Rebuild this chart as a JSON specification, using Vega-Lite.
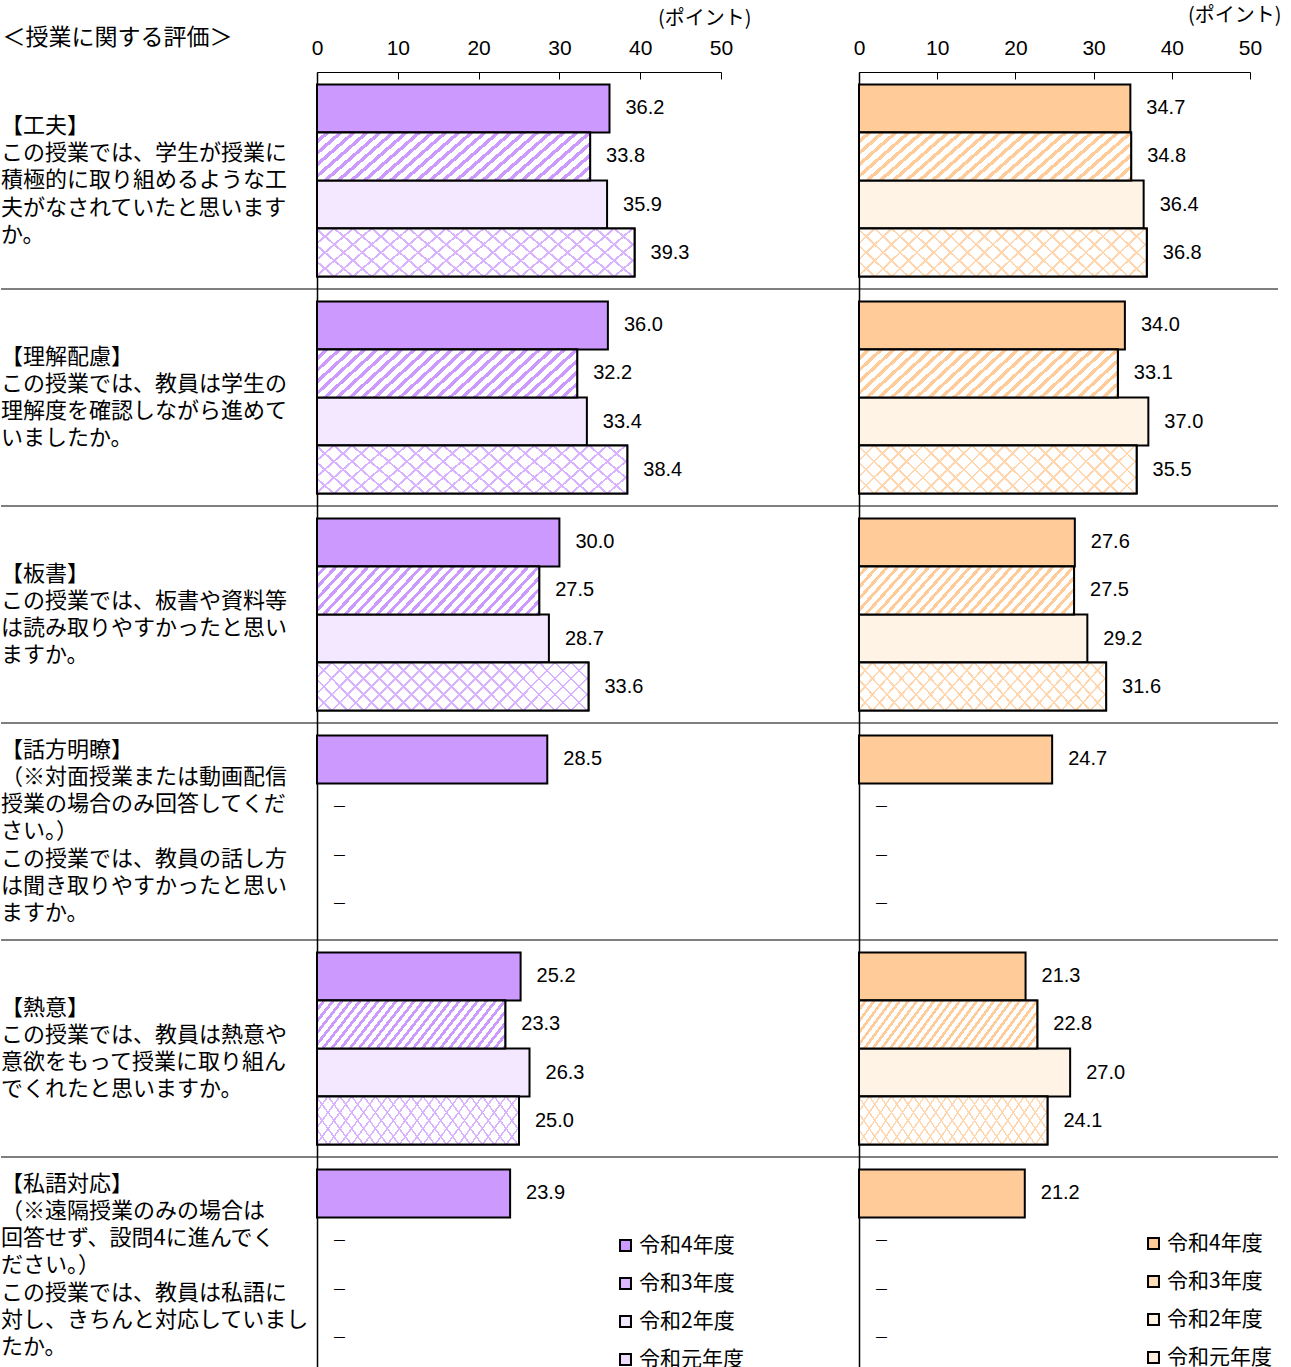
{
  "$schema": "https://vega.github.io/schema/vega-lite/v6.json",
  "padding": {"left": 0, "top": 5, "right": 0, "bottom": 0},
  "bounds": "flush",
  "spacing": 0,
  "config": {
    "view": {"stroke": null},
    "font": "Noto Sans CJK JP",
    "axisX": {"grid": false, "domainColor": "black", "domainWidth": 1.2, "tickColor": "black", "tickSize": -7, "tickWidth": 1, "labelPadding": 21, "labelFontSize": 21, "labelFont": "Liberation Sans", "labelColor": "black", "labelFlush": false, "titleFont": "Noto Sans CJK JP", "titleFontSize": 20, "titleFontWeight": "normal", "titleColor": "black", "titleAlign": "right", "titleBaseline": "middle"}
  },
  "resolve": {"scale": {"color": "independent", "x": "independent"}, "legend": {"color": "independent"}},
  "datasets": {
    "labels": [
      {"group": "工夫", "lines": 5, "text": "【工夫】\nこの授業では、学生が授業に\n積極的に取り組めるような工\n夫がなされていたと思います\nか。"},
      {"group": "理解配慮", "lines": 4, "text": "【理解配慮】\nこの授業では、教員は学生の\n理解度を確認しながら進めて\nいましたか。"},
      {"group": "板書", "lines": 4, "text": "【板書】\nこの授業では、板書や資料等\nは読み取りやすかったと思い\nますか。"},
      {"group": "話方明瞭", "lines": 7, "text": "【話方明瞭】\n（※対面授業または動画配信\n授業の場合のみ回答してくだ\nさい。）\nこの授業では、教員の話し方\nは聞き取りやすかったと思い\nますか。"},
      {"group": "熱意", "lines": 4, "text": "【熱意】\nこの授業では、教員は熱意や\n意欲をもって授業に取り組ん\nでくれたと思いますか。"},
      {"group": "私語対応", "lines": 7, "text": "【私語対応】\n（※遠隔授業のみの場合は\n回答せず、設問4に進んでく\nださい。）\nこの授業では、教員は私語に\n対し、きちんと対応していまし\nたか。"}
    ],
    "left": [
      {"group": "工夫", "year": "令和4年度", "value": 36.2},
      {"group": "工夫", "year": "令和3年度", "value": 33.8},
      {"group": "工夫", "year": "令和2年度", "value": 35.9},
      {"group": "工夫", "year": "令和元年度", "value": 39.3},
      {"group": "理解配慮", "year": "令和4年度", "value": 36.0},
      {"group": "理解配慮", "year": "令和3年度", "value": 32.2},
      {"group": "理解配慮", "year": "令和2年度", "value": 33.4},
      {"group": "理解配慮", "year": "令和元年度", "value": 38.4},
      {"group": "板書", "year": "令和4年度", "value": 30.0},
      {"group": "板書", "year": "令和3年度", "value": 27.5},
      {"group": "板書", "year": "令和2年度", "value": 28.7},
      {"group": "板書", "year": "令和元年度", "value": 33.6},
      {"group": "話方明瞭", "year": "令和4年度", "value": 28.5},
      {"group": "話方明瞭", "year": "令和3年度", "value": null},
      {"group": "話方明瞭", "year": "令和2年度", "value": null},
      {"group": "話方明瞭", "year": "令和元年度", "value": null},
      {"group": "熱意", "year": "令和4年度", "value": 25.2},
      {"group": "熱意", "year": "令和3年度", "value": 23.3},
      {"group": "熱意", "year": "令和2年度", "value": 26.3},
      {"group": "熱意", "year": "令和元年度", "value": 25.0},
      {"group": "私語対応", "year": "令和4年度", "value": 23.9},
      {"group": "私語対応", "year": "令和3年度", "value": null},
      {"group": "私語対応", "year": "令和2年度", "value": null},
      {"group": "私語対応", "year": "令和元年度", "value": null}
    ],
    "right": [
      {"group": "工夫", "year": "令和4年度", "value": 34.7},
      {"group": "工夫", "year": "令和3年度", "value": 34.8},
      {"group": "工夫", "year": "令和2年度", "value": 36.4},
      {"group": "工夫", "year": "令和元年度", "value": 36.8},
      {"group": "理解配慮", "year": "令和4年度", "value": 34.0},
      {"group": "理解配慮", "year": "令和3年度", "value": 33.1},
      {"group": "理解配慮", "year": "令和2年度", "value": 37.0},
      {"group": "理解配慮", "year": "令和元年度", "value": 35.5},
      {"group": "板書", "year": "令和4年度", "value": 27.6},
      {"group": "板書", "year": "令和3年度", "value": 27.5},
      {"group": "板書", "year": "令和2年度", "value": 29.2},
      {"group": "板書", "year": "令和元年度", "value": 31.6},
      {"group": "話方明瞭", "year": "令和4年度", "value": 24.7},
      {"group": "話方明瞭", "year": "令和3年度", "value": null},
      {"group": "話方明瞭", "year": "令和2年度", "value": null},
      {"group": "話方明瞭", "year": "令和元年度", "value": null},
      {"group": "熱意", "year": "令和4年度", "value": 21.3},
      {"group": "熱意", "year": "令和3年度", "value": 22.8},
      {"group": "熱意", "year": "令和2年度", "value": 27.0},
      {"group": "熱意", "year": "令和元年度", "value": 24.1},
      {"group": "私語対応", "year": "令和4年度", "value": 21.2},
      {"group": "私語対応", "year": "令和3年度", "value": null},
      {"group": "私語対応", "year": "令和2年度", "value": null},
      {"group": "私語対応", "year": "令和元年度", "value": null}
    ]
  },
  "hconcat": [
    {
      "width": 316,
      "height": 1302,
      "data": {"name": "labels"},
      "title": {"text": "＜授業に関する評価＞", "anchor": "start", "fontSize": 23, "fontWeight": "normal", "font": "Noto Sans CJK JP", "color": "black", "offset": 22, "dx": 2},
      "encoding": {
        "y": {"field": "group", "type": "nominal", "sort": ["工夫", "理解配慮", "板書", "話方明瞭", "熱意", "私語対応"], "scale": {"domain": ["工夫", "理解配慮", "板書", "話方明瞭", "熱意", "私語対応"], "paddingInner": 0, "paddingOuter": 0}, "axis": null}
      },
      "layer": [
        {
          "transform": [{"filter": "datum.group !== '工夫'"}],
          "mark": {"type": "rule", "color": "black", "strokeWidth": 1.2},
          "encoding": {"y": {"field": "group", "type": "nominal", "sort": ["工夫", "理解配慮", "板書", "話方明瞭", "熱意", "私語対応"], "bandPosition": 0, "axis": null}}
        },
        {
          "transform": [{"filter": "datum.lines === 5"}],
          "mark": {"type": "text", "align": "left", "baseline": "middle", "lineBreak": "\n", "fontSize": 22, "lineHeight": 27.2, "font": "Noto Sans CJK JP", "color": "black", "dx": 0, "dy": -54.4},
          "encoding": {"x": {"value": 0}, "text": {"field": "text", "type": "nominal"}}
        },
        {
          "transform": [{"filter": "datum.lines === 4"}],
          "mark": {"type": "text", "align": "left", "baseline": "middle", "lineBreak": "\n", "fontSize": 22, "lineHeight": 27.2, "font": "Noto Sans CJK JP", "color": "black", "dx": 0, "dy": -40.8},
          "encoding": {"x": {"value": 0}, "text": {"field": "text", "type": "nominal"}}
        },
        {
          "transform": [{"filter": "datum.lines === 7"}],
          "mark": {"type": "text", "align": "left", "baseline": "middle", "lineBreak": "\n", "fontSize": 22, "lineHeight": 27.2, "font": "Noto Sans CJK JP", "color": "black", "dx": 0, "dy": -81.6},
          "encoding": {"x": {"value": 0}, "text": {"field": "text", "type": "nominal"}}
        }
      ]
    },
    {
      "width": 542,
      "height": 1302,
      "data": {"name": "left"},
      "encoding": {
        "y": {"field": "group", "type": "nominal", "sort": ["工夫", "理解配慮", "板書", "話方明瞭", "熱意", "私語対応"], "scale": {"domain": ["工夫", "理解配慮", "板書", "話方明瞭", "熱意", "私語対応"], "paddingInner": 0, "paddingOuter": 0}, "axis": {"title": null, "labels": false, "ticks": false, "domain": true, "domainColor": "black", "domainWidth": 1.5, "grid": false}}
      },
      "layer": [
        {
          "transform": [{"filter": "datum.group !== '工夫' && datum.year === '令和4年度'"}],
          "mark": {"type": "rule", "color": "black", "strokeWidth": 1.2},
          "encoding": {"y": {"field": "group", "type": "nominal", "sort": ["工夫", "理解配慮", "板書", "話方明瞭", "熱意", "私語対応"], "bandPosition": 0}}
        },
        {
          "transform": [{"filter": "datum.value !== null"}],
          "mark": {"type": "bar", "stroke": "black", "strokeWidth": 2},
          "encoding": {
            "x": {"field": "value", "type": "quantitative", "title": "(ポイント)", "scale": {"domain": [0, 50], "range": [0, 404], "nice": false}, "axis": {"orient": "top", "values": [0, 10, 20, 30, 40, 50], "labelFlush": false, "titleX": 434, "titleY": -54}},
            "yOffset": {"field": "year", "type": "nominal", "sort": ["令和4年度", "令和3年度", "令和2年度", "令和元年度"], "scale": {"domain": ["令和4年度", "令和3年度", "令和2年度", "令和元年度"], "paddingOuter": 0.26, "paddingInner": 0}},
            "color": {"field": "year", "type": "nominal", "scale": {"domain": ["令和4年度", "令和3年度", "令和2年度", "令和元年度"], "range": ["#cc99ff", "#ddb8ff", "#f3e8ff", "#eeddff"]}, "legend": {"orient": "none", "legendX": 298, "legendY": 1163, "title": null, "symbolType": "square", "symbolSize": 120, "symbolStrokeColor": "black", "symbolStrokeWidth": 2, "labelFont": "Noto Sans CJK JP", "labelFontSize": 21, "labelColor": "black", "rowPadding": 16, "labelOffset": 3, "padding": 0}}
          }
        },
        {
          "transform": [{"filter": "datum.value !== null && datum.year === '令和3年度'"}],
          "mark": {"type": "bar", "stroke": "black", "strokeWidth": 2, "fill": {"gradient": "linear", "x1": 0, "y1": 0, "x2": 1.154, "y2": 0.231, "stops": [
            {"offset": 0.024, "color": "#fff"}, {"offset": 0.024, "color": "#c9f"}, {"offset": 0.04, "color": "#c9f"}, {"offset": 0.04, "color": "#fff"},
            {"offset": 0.064, "color": "#fff"}, {"offset": 0.064, "color": "#c9f"}, {"offset": 0.08, "color": "#c9f"}, {"offset": 0.08, "color": "#fff"},
            {"offset": 0.104, "color": "#fff"}, {"offset": 0.104, "color": "#c9f"}, {"offset": 0.12, "color": "#c9f"}, {"offset": 0.12, "color": "#fff"},
            {"offset": 0.144, "color": "#fff"}, {"offset": 0.144, "color": "#c9f"}, {"offset": 0.16, "color": "#c9f"}, {"offset": 0.16, "color": "#fff"},
            {"offset": 0.184, "color": "#fff"}, {"offset": 0.184, "color": "#c9f"}, {"offset": 0.2, "color": "#c9f"}, {"offset": 0.2, "color": "#fff"},
            {"offset": 0.224, "color": "#fff"}, {"offset": 0.224, "color": "#c9f"}, {"offset": 0.24, "color": "#c9f"}, {"offset": 0.24, "color": "#fff"},
            {"offset": 0.264, "color": "#fff"}, {"offset": 0.264, "color": "#c9f"}, {"offset": 0.28, "color": "#c9f"}, {"offset": 0.28, "color": "#fff"},
            {"offset": 0.304, "color": "#fff"}, {"offset": 0.304, "color": "#c9f"}, {"offset": 0.32, "color": "#c9f"}, {"offset": 0.32, "color": "#fff"},
            {"offset": 0.344, "color": "#fff"}, {"offset": 0.344, "color": "#c9f"}, {"offset": 0.36, "color": "#c9f"}, {"offset": 0.36, "color": "#fff"},
            {"offset": 0.384, "color": "#fff"}, {"offset": 0.384, "color": "#c9f"}, {"offset": 0.4, "color": "#c9f"}, {"offset": 0.4, "color": "#fff"},
            {"offset": 0.424, "color": "#fff"}, {"offset": 0.424, "color": "#c9f"}, {"offset": 0.44, "color": "#c9f"}, {"offset": 0.44, "color": "#fff"},
            {"offset": 0.464, "color": "#fff"}, {"offset": 0.464, "color": "#c9f"}, {"offset": 0.48, "color": "#c9f"}, {"offset": 0.48, "color": "#fff"},
            {"offset": 0.504, "color": "#fff"}, {"offset": 0.504, "color": "#c9f"}, {"offset": 0.52, "color": "#c9f"}, {"offset": 0.52, "color": "#fff"},
            {"offset": 0.544, "color": "#fff"}, {"offset": 0.544, "color": "#c9f"}, {"offset": 0.56, "color": "#c9f"}, {"offset": 0.56, "color": "#fff"},
            {"offset": 0.584, "color": "#fff"}, {"offset": 0.584, "color": "#c9f"}, {"offset": 0.6, "color": "#c9f"}, {"offset": 0.6, "color": "#fff"},
            {"offset": 0.624, "color": "#fff"}, {"offset": 0.624, "color": "#c9f"}, {"offset": 0.64, "color": "#c9f"}, {"offset": 0.64, "color": "#fff"},
            {"offset": 0.664, "color": "#fff"}, {"offset": 0.664, "color": "#c9f"}, {"offset": 0.68, "color": "#c9f"}, {"offset": 0.68, "color": "#fff"},
            {"offset": 0.704, "color": "#fff"}, {"offset": 0.704, "color": "#c9f"}, {"offset": 0.72, "color": "#c9f"}, {"offset": 0.72, "color": "#fff"},
            {"offset": 0.744, "color": "#fff"}, {"offset": 0.744, "color": "#c9f"}, {"offset": 0.76, "color": "#c9f"}, {"offset": 0.76, "color": "#fff"},
            {"offset": 0.784, "color": "#fff"}, {"offset": 0.784, "color": "#c9f"}, {"offset": 0.8, "color": "#c9f"}, {"offset": 0.8, "color": "#fff"},
            {"offset": 0.824, "color": "#fff"}, {"offset": 0.824, "color": "#c9f"}, {"offset": 0.84, "color": "#c9f"}, {"offset": 0.84, "color": "#fff"},
            {"offset": 0.864, "color": "#fff"}, {"offset": 0.864, "color": "#c9f"}, {"offset": 0.88, "color": "#c9f"}, {"offset": 0.88, "color": "#fff"},
            {"offset": 0.904, "color": "#fff"}, {"offset": 0.904, "color": "#c9f"}, {"offset": 0.92, "color": "#c9f"}, {"offset": 0.92, "color": "#fff"},
            {"offset": 0.944, "color": "#fff"}, {"offset": 0.944, "color": "#c9f"}, {"offset": 0.96, "color": "#c9f"}, {"offset": 0.96, "color": "#fff"},
            {"offset": 0.984, "color": "#fff"}, {"offset": 0.984, "color": "#c9f"}, {"offset": 1, "color": "#c9f"}
          ]}},
          "encoding": {
            "x": {"field": "value", "type": "quantitative", "title": "(ポイント)", "scale": {"domain": [0, 50], "range": [0, 404], "nice": false}, "axis": {"orient": "top", "values": [0, 10, 20, 30, 40, 50], "labelFlush": false, "titleX": 434, "titleY": -54}},
            "yOffset": {"field": "year", "type": "nominal", "sort": ["令和4年度", "令和3年度", "令和2年度", "令和元年度"], "scale": {"domain": ["令和4年度", "令和3年度", "令和2年度", "令和元年度"], "paddingOuter": 0.26, "paddingInner": 0}}
          }
        },
        {
          "transform": [{"filter": "datum.value !== null && datum.year === '令和元年度'"}],
          "mark": {"type": "bar", "strokeWidth": 0, "fill": {"gradient": "linear", "x1": 0, "y1": 0, "x2": 1.14, "y2": 0.2, "stops": [
            {"offset": 0.042, "color": "#fff"}, {"offset": 0.042, "color": "#d9b3ff"}, {"offset": 0.05, "color": "#d9b3ff"}, {"offset": 0.05, "color": "#fff"},
            {"offset": 0.092, "color": "#fff"}, {"offset": 0.092, "color": "#d9b3ff"}, {"offset": 0.1, "color": "#d9b3ff"}, {"offset": 0.1, "color": "#fff"},
            {"offset": 0.142, "color": "#fff"}, {"offset": 0.142, "color": "#d9b3ff"}, {"offset": 0.15, "color": "#d9b3ff"}, {"offset": 0.15, "color": "#fff"},
            {"offset": 0.192, "color": "#fff"}, {"offset": 0.192, "color": "#d9b3ff"}, {"offset": 0.2, "color": "#d9b3ff"}, {"offset": 0.2, "color": "#fff"},
            {"offset": 0.242, "color": "#fff"}, {"offset": 0.242, "color": "#d9b3ff"}, {"offset": 0.25, "color": "#d9b3ff"}, {"offset": 0.25, "color": "#fff"},
            {"offset": 0.292, "color": "#fff"}, {"offset": 0.292, "color": "#d9b3ff"}, {"offset": 0.3, "color": "#d9b3ff"}, {"offset": 0.3, "color": "#fff"},
            {"offset": 0.342, "color": "#fff"}, {"offset": 0.342, "color": "#d9b3ff"}, {"offset": 0.35, "color": "#d9b3ff"}, {"offset": 0.35, "color": "#fff"},
            {"offset": 0.392, "color": "#fff"}, {"offset": 0.392, "color": "#d9b3ff"}, {"offset": 0.4, "color": "#d9b3ff"}, {"offset": 0.4, "color": "#fff"},
            {"offset": 0.442, "color": "#fff"}, {"offset": 0.442, "color": "#d9b3ff"}, {"offset": 0.45, "color": "#d9b3ff"}, {"offset": 0.45, "color": "#fff"},
            {"offset": 0.492, "color": "#fff"}, {"offset": 0.492, "color": "#d9b3ff"}, {"offset": 0.5, "color": "#d9b3ff"}, {"offset": 0.5, "color": "#fff"},
            {"offset": 0.542, "color": "#fff"}, {"offset": 0.542, "color": "#d9b3ff"}, {"offset": 0.55, "color": "#d9b3ff"}, {"offset": 0.55, "color": "#fff"},
            {"offset": 0.592, "color": "#fff"}, {"offset": 0.592, "color": "#d9b3ff"}, {"offset": 0.6, "color": "#d9b3ff"}, {"offset": 0.6, "color": "#fff"},
            {"offset": 0.642, "color": "#fff"}, {"offset": 0.642, "color": "#d9b3ff"}, {"offset": 0.65, "color": "#d9b3ff"}, {"offset": 0.65, "color": "#fff"},
            {"offset": 0.692, "color": "#fff"}, {"offset": 0.692, "color": "#d9b3ff"}, {"offset": 0.7, "color": "#d9b3ff"}, {"offset": 0.7, "color": "#fff"},
            {"offset": 0.742, "color": "#fff"}, {"offset": 0.742, "color": "#d9b3ff"}, {"offset": 0.75, "color": "#d9b3ff"}, {"offset": 0.75, "color": "#fff"},
            {"offset": 0.792, "color": "#fff"}, {"offset": 0.792, "color": "#d9b3ff"}, {"offset": 0.8, "color": "#d9b3ff"}, {"offset": 0.8, "color": "#fff"},
            {"offset": 0.842, "color": "#fff"}, {"offset": 0.842, "color": "#d9b3ff"}, {"offset": 0.85, "color": "#d9b3ff"}, {"offset": 0.85, "color": "#fff"},
            {"offset": 0.892, "color": "#fff"}, {"offset": 0.892, "color": "#d9b3ff"}, {"offset": 0.9, "color": "#d9b3ff"}, {"offset": 0.9, "color": "#fff"},
            {"offset": 0.942, "color": "#fff"}, {"offset": 0.942, "color": "#d9b3ff"}, {"offset": 0.95, "color": "#d9b3ff"}, {"offset": 0.95, "color": "#fff"},
            {"offset": 0.992, "color": "#fff"}, {"offset": 0.992, "color": "#d9b3ff"}, {"offset": 1, "color": "#d9b3ff"}
          ]}},
          "encoding": {
            "x": {"field": "value", "type": "quantitative", "title": "(ポイント)", "scale": {"domain": [0, 50], "range": [0, 404], "nice": false}, "axis": {"orient": "top", "values": [0, 10, 20, 30, 40, 50], "labelFlush": false, "titleX": 434, "titleY": -54}},
            "yOffset": {"field": "year", "type": "nominal", "sort": ["令和4年度", "令和3年度", "令和2年度", "令和元年度"], "scale": {"domain": ["令和4年度", "令和3年度", "令和2年度", "令和元年度"], "paddingOuter": 0.26, "paddingInner": 0}}
          }
        },
        {
          "transform": [{"filter": "datum.value !== null && datum.year === '令和元年度'"}],
          "mark": {"type": "bar", "stroke": "black", "strokeWidth": 2, "fill": {"gradient": "linear", "x1": 0, "y1": 1, "x2": 1.14, "y2": 0.8, "stops": [
            {"offset": 0.042, "color": "rgba(0,0,0,0)"}, {"offset": 0.042, "color": "#d9b3ff"}, {"offset": 0.05, "color": "#d9b3ff"}, {"offset": 0.05, "color": "rgba(0,0,0,0)"},
            {"offset": 0.092, "color": "rgba(0,0,0,0)"}, {"offset": 0.092, "color": "#d9b3ff"}, {"offset": 0.1, "color": "#d9b3ff"}, {"offset": 0.1, "color": "rgba(0,0,0,0)"},
            {"offset": 0.142, "color": "rgba(0,0,0,0)"}, {"offset": 0.142, "color": "#d9b3ff"}, {"offset": 0.15, "color": "#d9b3ff"}, {"offset": 0.15, "color": "rgba(0,0,0,0)"},
            {"offset": 0.192, "color": "rgba(0,0,0,0)"}, {"offset": 0.192, "color": "#d9b3ff"}, {"offset": 0.2, "color": "#d9b3ff"}, {"offset": 0.2, "color": "rgba(0,0,0,0)"},
            {"offset": 0.242, "color": "rgba(0,0,0,0)"}, {"offset": 0.242, "color": "#d9b3ff"}, {"offset": 0.25, "color": "#d9b3ff"}, {"offset": 0.25, "color": "rgba(0,0,0,0)"},
            {"offset": 0.292, "color": "rgba(0,0,0,0)"}, {"offset": 0.292, "color": "#d9b3ff"}, {"offset": 0.3, "color": "#d9b3ff"}, {"offset": 0.3, "color": "rgba(0,0,0,0)"},
            {"offset": 0.342, "color": "rgba(0,0,0,0)"}, {"offset": 0.342, "color": "#d9b3ff"}, {"offset": 0.35, "color": "#d9b3ff"}, {"offset": 0.35, "color": "rgba(0,0,0,0)"},
            {"offset": 0.392, "color": "rgba(0,0,0,0)"}, {"offset": 0.392, "color": "#d9b3ff"}, {"offset": 0.4, "color": "#d9b3ff"}, {"offset": 0.4, "color": "rgba(0,0,0,0)"},
            {"offset": 0.442, "color": "rgba(0,0,0,0)"}, {"offset": 0.442, "color": "#d9b3ff"}, {"offset": 0.45, "color": "#d9b3ff"}, {"offset": 0.45, "color": "rgba(0,0,0,0)"},
            {"offset": 0.492, "color": "rgba(0,0,0,0)"}, {"offset": 0.492, "color": "#d9b3ff"}, {"offset": 0.5, "color": "#d9b3ff"}, {"offset": 0.5, "color": "rgba(0,0,0,0)"},
            {"offset": 0.542, "color": "rgba(0,0,0,0)"}, {"offset": 0.542, "color": "#d9b3ff"}, {"offset": 0.55, "color": "#d9b3ff"}, {"offset": 0.55, "color": "rgba(0,0,0,0)"},
            {"offset": 0.592, "color": "rgba(0,0,0,0)"}, {"offset": 0.592, "color": "#d9b3ff"}, {"offset": 0.6, "color": "#d9b3ff"}, {"offset": 0.6, "color": "rgba(0,0,0,0)"},
            {"offset": 0.642, "color": "rgba(0,0,0,0)"}, {"offset": 0.642, "color": "#d9b3ff"}, {"offset": 0.65, "color": "#d9b3ff"}, {"offset": 0.65, "color": "rgba(0,0,0,0)"},
            {"offset": 0.692, "color": "rgba(0,0,0,0)"}, {"offset": 0.692, "color": "#d9b3ff"}, {"offset": 0.7, "color": "#d9b3ff"}, {"offset": 0.7, "color": "rgba(0,0,0,0)"},
            {"offset": 0.742, "color": "rgba(0,0,0,0)"}, {"offset": 0.742, "color": "#d9b3ff"}, {"offset": 0.75, "color": "#d9b3ff"}, {"offset": 0.75, "color": "rgba(0,0,0,0)"},
            {"offset": 0.792, "color": "rgba(0,0,0,0)"}, {"offset": 0.792, "color": "#d9b3ff"}, {"offset": 0.8, "color": "#d9b3ff"}, {"offset": 0.8, "color": "rgba(0,0,0,0)"},
            {"offset": 0.842, "color": "rgba(0,0,0,0)"}, {"offset": 0.842, "color": "#d9b3ff"}, {"offset": 0.85, "color": "#d9b3ff"}, {"offset": 0.85, "color": "rgba(0,0,0,0)"},
            {"offset": 0.892, "color": "rgba(0,0,0,0)"}, {"offset": 0.892, "color": "#d9b3ff"}, {"offset": 0.9, "color": "#d9b3ff"}, {"offset": 0.9, "color": "rgba(0,0,0,0)"},
            {"offset": 0.942, "color": "rgba(0,0,0,0)"}, {"offset": 0.942, "color": "#d9b3ff"}, {"offset": 0.95, "color": "#d9b3ff"}, {"offset": 0.95, "color": "rgba(0,0,0,0)"},
            {"offset": 0.992, "color": "rgba(0,0,0,0)"}, {"offset": 0.992, "color": "#d9b3ff"}, {"offset": 1, "color": "#d9b3ff"}
          ]}},
          "encoding": {
            "x": {"field": "value", "type": "quantitative", "title": "(ポイント)", "scale": {"domain": [0, 50], "range": [0, 404], "nice": false}, "axis": {"orient": "top", "values": [0, 10, 20, 30, 40, 50], "labelFlush": false, "titleX": 434, "titleY": -54}},
            "yOffset": {"field": "year", "type": "nominal", "sort": ["令和4年度", "令和3年度", "令和2年度", "令和元年度"], "scale": {"domain": ["令和4年度", "令和3年度", "令和2年度", "令和元年度"], "paddingOuter": 0.26, "paddingInner": 0}}
          }
        },
        {
          "transform": [{"filter": "datum.value !== null"}],
          "mark": {"type": "text", "align": "left", "baseline": "middle", "dx": 16, "fontSize": 20, "font": "Liberation Sans", "color": "black"},
          "encoding": {
            "x": {"field": "value", "type": "quantitative", "title": "(ポイント)", "scale": {"domain": [0, 50], "range": [0, 404], "nice": false}, "axis": {"orient": "top", "values": [0, 10, 20, 30, 40, 50], "labelFlush": false, "titleX": 434, "titleY": -54}},
            "yOffset": {"field": "year", "type": "nominal", "sort": ["令和4年度", "令和3年度", "令和2年度", "令和元年度"], "scale": {"domain": ["令和4年度", "令和3年度", "令和2年度", "令和元年度"], "paddingOuter": 0.26, "paddingInner": 0}},
            "text": {"field": "value", "type": "quantitative", "format": ".1f"}
          }
        },
        {
          "transform": [{"filter": "datum.value === null"}],
          "mark": {"type": "text", "align": "left", "baseline": "middle", "dx": 15, "fontSize": 15, "font": "Noto Sans CJK JP", "color": "black"},
          "encoding": {
            "x": {"datum": 0},
            "yOffset": {"field": "year", "type": "nominal", "sort": ["令和4年度", "令和3年度", "令和2年度", "令和元年度"], "scale": {"domain": ["令和4年度", "令和3年度", "令和2年度", "令和元年度"], "paddingOuter": 0.26, "paddingInner": 0}},
            "text": {"value": "－"}
          }
        }
      ]
    },
    {
      "width": 419,
      "height": 1302,
      "data": {"name": "right"},
      "encoding": {
        "y": {"field": "group", "type": "nominal", "sort": ["工夫", "理解配慮", "板書", "話方明瞭", "熱意", "私語対応"], "scale": {"domain": ["工夫", "理解配慮", "板書", "話方明瞭", "熱意", "私語対応"], "paddingInner": 0, "paddingOuter": 0}, "axis": {"title": null, "labels": false, "ticks": false, "domain": true, "domainColor": "black", "domainWidth": 1.5, "grid": false}}
      },
      "layer": [
        {
          "transform": [{"filter": "datum.group !== '工夫' && datum.year === '令和4年度'"}],
          "mark": {"type": "rule", "color": "black", "strokeWidth": 1.2},
          "encoding": {"y": {"field": "group", "type": "nominal", "sort": ["工夫", "理解配慮", "板書", "話方明瞭", "熱意", "私語対応"], "bandPosition": 0}}
        },
        {
          "transform": [{"filter": "datum.value !== null"}],
          "mark": {"type": "bar", "stroke": "black", "strokeWidth": 2},
          "encoding": {
            "x": {"field": "value", "type": "quantitative", "title": "(ポイント)", "scale": {"domain": [0, 50], "range": [0, 391], "nice": false}, "axis": {"orient": "top", "values": [0, 10, 20, 30, 40, 50], "labelFlush": false, "titleX": 422, "titleY": -57}},
            "yOffset": {"field": "year", "type": "nominal", "sort": ["令和4年度", "令和3年度", "令和2年度", "令和元年度"], "scale": {"domain": ["令和4年度", "令和3年度", "令和2年度", "令和元年度"], "paddingOuter": 0.26, "paddingInner": 0}},
            "color": {"field": "year", "type": "nominal", "scale": {"domain": ["令和4年度", "令和3年度", "令和2年度", "令和元年度"], "range": ["#ffcc99", "#ffdcb8", "#fff3e6", "#ffeedd"]}, "legend": {"orient": "none", "legendX": 284, "legendY": 1161, "title": null, "symbolType": "square", "symbolSize": 120, "symbolStrokeColor": "black", "symbolStrokeWidth": 2, "labelFont": "Noto Sans CJK JP", "labelFontSize": 21, "labelColor": "black", "rowPadding": 16, "labelOffset": 3, "padding": 0}}
          }
        },
        {
          "transform": [{"filter": "datum.value !== null && datum.year === '令和3年度'"}],
          "mark": {"type": "bar", "stroke": "black", "strokeWidth": 2, "fill": {"gradient": "linear", "x1": 0, "y1": 0, "x2": 1.154, "y2": 0.231, "stops": [
            {"offset": 0.024, "color": "#fff"}, {"offset": 0.024, "color": "#fc9"}, {"offset": 0.04, "color": "#fc9"}, {"offset": 0.04, "color": "#fff"},
            {"offset": 0.064, "color": "#fff"}, {"offset": 0.064, "color": "#fc9"}, {"offset": 0.08, "color": "#fc9"}, {"offset": 0.08, "color": "#fff"},
            {"offset": 0.104, "color": "#fff"}, {"offset": 0.104, "color": "#fc9"}, {"offset": 0.12, "color": "#fc9"}, {"offset": 0.12, "color": "#fff"},
            {"offset": 0.144, "color": "#fff"}, {"offset": 0.144, "color": "#fc9"}, {"offset": 0.16, "color": "#fc9"}, {"offset": 0.16, "color": "#fff"},
            {"offset": 0.184, "color": "#fff"}, {"offset": 0.184, "color": "#fc9"}, {"offset": 0.2, "color": "#fc9"}, {"offset": 0.2, "color": "#fff"},
            {"offset": 0.224, "color": "#fff"}, {"offset": 0.224, "color": "#fc9"}, {"offset": 0.24, "color": "#fc9"}, {"offset": 0.24, "color": "#fff"},
            {"offset": 0.264, "color": "#fff"}, {"offset": 0.264, "color": "#fc9"}, {"offset": 0.28, "color": "#fc9"}, {"offset": 0.28, "color": "#fff"},
            {"offset": 0.304, "color": "#fff"}, {"offset": 0.304, "color": "#fc9"}, {"offset": 0.32, "color": "#fc9"}, {"offset": 0.32, "color": "#fff"},
            {"offset": 0.344, "color": "#fff"}, {"offset": 0.344, "color": "#fc9"}, {"offset": 0.36, "color": "#fc9"}, {"offset": 0.36, "color": "#fff"},
            {"offset": 0.384, "color": "#fff"}, {"offset": 0.384, "color": "#fc9"}, {"offset": 0.4, "color": "#fc9"}, {"offset": 0.4, "color": "#fff"},
            {"offset": 0.424, "color": "#fff"}, {"offset": 0.424, "color": "#fc9"}, {"offset": 0.44, "color": "#fc9"}, {"offset": 0.44, "color": "#fff"},
            {"offset": 0.464, "color": "#fff"}, {"offset": 0.464, "color": "#fc9"}, {"offset": 0.48, "color": "#fc9"}, {"offset": 0.48, "color": "#fff"},
            {"offset": 0.504, "color": "#fff"}, {"offset": 0.504, "color": "#fc9"}, {"offset": 0.52, "color": "#fc9"}, {"offset": 0.52, "color": "#fff"},
            {"offset": 0.544, "color": "#fff"}, {"offset": 0.544, "color": "#fc9"}, {"offset": 0.56, "color": "#fc9"}, {"offset": 0.56, "color": "#fff"},
            {"offset": 0.584, "color": "#fff"}, {"offset": 0.584, "color": "#fc9"}, {"offset": 0.6, "color": "#fc9"}, {"offset": 0.6, "color": "#fff"},
            {"offset": 0.624, "color": "#fff"}, {"offset": 0.624, "color": "#fc9"}, {"offset": 0.64, "color": "#fc9"}, {"offset": 0.64, "color": "#fff"},
            {"offset": 0.664, "color": "#fff"}, {"offset": 0.664, "color": "#fc9"}, {"offset": 0.68, "color": "#fc9"}, {"offset": 0.68, "color": "#fff"},
            {"offset": 0.704, "color": "#fff"}, {"offset": 0.704, "color": "#fc9"}, {"offset": 0.72, "color": "#fc9"}, {"offset": 0.72, "color": "#fff"},
            {"offset": 0.744, "color": "#fff"}, {"offset": 0.744, "color": "#fc9"}, {"offset": 0.76, "color": "#fc9"}, {"offset": 0.76, "color": "#fff"},
            {"offset": 0.784, "color": "#fff"}, {"offset": 0.784, "color": "#fc9"}, {"offset": 0.8, "color": "#fc9"}, {"offset": 0.8, "color": "#fff"},
            {"offset": 0.824, "color": "#fff"}, {"offset": 0.824, "color": "#fc9"}, {"offset": 0.84, "color": "#fc9"}, {"offset": 0.84, "color": "#fff"},
            {"offset": 0.864, "color": "#fff"}, {"offset": 0.864, "color": "#fc9"}, {"offset": 0.88, "color": "#fc9"}, {"offset": 0.88, "color": "#fff"},
            {"offset": 0.904, "color": "#fff"}, {"offset": 0.904, "color": "#fc9"}, {"offset": 0.92, "color": "#fc9"}, {"offset": 0.92, "color": "#fff"},
            {"offset": 0.944, "color": "#fff"}, {"offset": 0.944, "color": "#fc9"}, {"offset": 0.96, "color": "#fc9"}, {"offset": 0.96, "color": "#fff"},
            {"offset": 0.984, "color": "#fff"}, {"offset": 0.984, "color": "#fc9"}, {"offset": 1, "color": "#fc9"}
          ]}},
          "encoding": {
            "x": {"field": "value", "type": "quantitative", "title": "(ポイント)", "scale": {"domain": [0, 50], "range": [0, 391], "nice": false}, "axis": {"orient": "top", "values": [0, 10, 20, 30, 40, 50], "labelFlush": false, "titleX": 422, "titleY": -57}},
            "yOffset": {"field": "year", "type": "nominal", "sort": ["令和4年度", "令和3年度", "令和2年度", "令和元年度"], "scale": {"domain": ["令和4年度", "令和3年度", "令和2年度", "令和元年度"], "paddingOuter": 0.26, "paddingInner": 0}}
          }
        },
        {
          "transform": [{"filter": "datum.value !== null && datum.year === '令和元年度'"}],
          "mark": {"type": "bar", "strokeWidth": 0, "fill": {"gradient": "linear", "x1": 0, "y1": 0, "x2": 1.14, "y2": 0.2, "stops": [
            {"offset": 0.042, "color": "#fff"}, {"offset": 0.042, "color": "#ffd6ad"}, {"offset": 0.05, "color": "#ffd6ad"}, {"offset": 0.05, "color": "#fff"},
            {"offset": 0.092, "color": "#fff"}, {"offset": 0.092, "color": "#ffd6ad"}, {"offset": 0.1, "color": "#ffd6ad"}, {"offset": 0.1, "color": "#fff"},
            {"offset": 0.142, "color": "#fff"}, {"offset": 0.142, "color": "#ffd6ad"}, {"offset": 0.15, "color": "#ffd6ad"}, {"offset": 0.15, "color": "#fff"},
            {"offset": 0.192, "color": "#fff"}, {"offset": 0.192, "color": "#ffd6ad"}, {"offset": 0.2, "color": "#ffd6ad"}, {"offset": 0.2, "color": "#fff"},
            {"offset": 0.242, "color": "#fff"}, {"offset": 0.242, "color": "#ffd6ad"}, {"offset": 0.25, "color": "#ffd6ad"}, {"offset": 0.25, "color": "#fff"},
            {"offset": 0.292, "color": "#fff"}, {"offset": 0.292, "color": "#ffd6ad"}, {"offset": 0.3, "color": "#ffd6ad"}, {"offset": 0.3, "color": "#fff"},
            {"offset": 0.342, "color": "#fff"}, {"offset": 0.342, "color": "#ffd6ad"}, {"offset": 0.35, "color": "#ffd6ad"}, {"offset": 0.35, "color": "#fff"},
            {"offset": 0.392, "color": "#fff"}, {"offset": 0.392, "color": "#ffd6ad"}, {"offset": 0.4, "color": "#ffd6ad"}, {"offset": 0.4, "color": "#fff"},
            {"offset": 0.442, "color": "#fff"}, {"offset": 0.442, "color": "#ffd6ad"}, {"offset": 0.45, "color": "#ffd6ad"}, {"offset": 0.45, "color": "#fff"},
            {"offset": 0.492, "color": "#fff"}, {"offset": 0.492, "color": "#ffd6ad"}, {"offset": 0.5, "color": "#ffd6ad"}, {"offset": 0.5, "color": "#fff"},
            {"offset": 0.542, "color": "#fff"}, {"offset": 0.542, "color": "#ffd6ad"}, {"offset": 0.55, "color": "#ffd6ad"}, {"offset": 0.55, "color": "#fff"},
            {"offset": 0.592, "color": "#fff"}, {"offset": 0.592, "color": "#ffd6ad"}, {"offset": 0.6, "color": "#ffd6ad"}, {"offset": 0.6, "color": "#fff"},
            {"offset": 0.642, "color": "#fff"}, {"offset": 0.642, "color": "#ffd6ad"}, {"offset": 0.65, "color": "#ffd6ad"}, {"offset": 0.65, "color": "#fff"},
            {"offset": 0.692, "color": "#fff"}, {"offset": 0.692, "color": "#ffd6ad"}, {"offset": 0.7, "color": "#ffd6ad"}, {"offset": 0.7, "color": "#fff"},
            {"offset": 0.742, "color": "#fff"}, {"offset": 0.742, "color": "#ffd6ad"}, {"offset": 0.75, "color": "#ffd6ad"}, {"offset": 0.75, "color": "#fff"},
            {"offset": 0.792, "color": "#fff"}, {"offset": 0.792, "color": "#ffd6ad"}, {"offset": 0.8, "color": "#ffd6ad"}, {"offset": 0.8, "color": "#fff"},
            {"offset": 0.842, "color": "#fff"}, {"offset": 0.842, "color": "#ffd6ad"}, {"offset": 0.85, "color": "#ffd6ad"}, {"offset": 0.85, "color": "#fff"},
            {"offset": 0.892, "color": "#fff"}, {"offset": 0.892, "color": "#ffd6ad"}, {"offset": 0.9, "color": "#ffd6ad"}, {"offset": 0.9, "color": "#fff"},
            {"offset": 0.942, "color": "#fff"}, {"offset": 0.942, "color": "#ffd6ad"}, {"offset": 0.95, "color": "#ffd6ad"}, {"offset": 0.95, "color": "#fff"},
            {"offset": 0.992, "color": "#fff"}, {"offset": 0.992, "color": "#ffd6ad"}, {"offset": 1, "color": "#ffd6ad"}
          ]}},
          "encoding": {
            "x": {"field": "value", "type": "quantitative", "title": "(ポイント)", "scale": {"domain": [0, 50], "range": [0, 391], "nice": false}, "axis": {"orient": "top", "values": [0, 10, 20, 30, 40, 50], "labelFlush": false, "titleX": 422, "titleY": -57}},
            "yOffset": {"field": "year", "type": "nominal", "sort": ["令和4年度", "令和3年度", "令和2年度", "令和元年度"], "scale": {"domain": ["令和4年度", "令和3年度", "令和2年度", "令和元年度"], "paddingOuter": 0.26, "paddingInner": 0}}
          }
        },
        {
          "transform": [{"filter": "datum.value !== null && datum.year === '令和元年度'"}],
          "mark": {"type": "bar", "stroke": "black", "strokeWidth": 2, "fill": {"gradient": "linear", "x1": 0, "y1": 1, "x2": 1.14, "y2": 0.8, "stops": [
            {"offset": 0.042, "color": "rgba(0,0,0,0)"}, {"offset": 0.042, "color": "#ffd6ad"}, {"offset": 0.05, "color": "#ffd6ad"}, {"offset": 0.05, "color": "rgba(0,0,0,0)"},
            {"offset": 0.092, "color": "rgba(0,0,0,0)"}, {"offset": 0.092, "color": "#ffd6ad"}, {"offset": 0.1, "color": "#ffd6ad"}, {"offset": 0.1, "color": "rgba(0,0,0,0)"},
            {"offset": 0.142, "color": "rgba(0,0,0,0)"}, {"offset": 0.142, "color": "#ffd6ad"}, {"offset": 0.15, "color": "#ffd6ad"}, {"offset": 0.15, "color": "rgba(0,0,0,0)"},
            {"offset": 0.192, "color": "rgba(0,0,0,0)"}, {"offset": 0.192, "color": "#ffd6ad"}, {"offset": 0.2, "color": "#ffd6ad"}, {"offset": 0.2, "color": "rgba(0,0,0,0)"},
            {"offset": 0.242, "color": "rgba(0,0,0,0)"}, {"offset": 0.242, "color": "#ffd6ad"}, {"offset": 0.25, "color": "#ffd6ad"}, {"offset": 0.25, "color": "rgba(0,0,0,0)"},
            {"offset": 0.292, "color": "rgba(0,0,0,0)"}, {"offset": 0.292, "color": "#ffd6ad"}, {"offset": 0.3, "color": "#ffd6ad"}, {"offset": 0.3, "color": "rgba(0,0,0,0)"},
            {"offset": 0.342, "color": "rgba(0,0,0,0)"}, {"offset": 0.342, "color": "#ffd6ad"}, {"offset": 0.35, "color": "#ffd6ad"}, {"offset": 0.35, "color": "rgba(0,0,0,0)"},
            {"offset": 0.392, "color": "rgba(0,0,0,0)"}, {"offset": 0.392, "color": "#ffd6ad"}, {"offset": 0.4, "color": "#ffd6ad"}, {"offset": 0.4, "color": "rgba(0,0,0,0)"},
            {"offset": 0.442, "color": "rgba(0,0,0,0)"}, {"offset": 0.442, "color": "#ffd6ad"}, {"offset": 0.45, "color": "#ffd6ad"}, {"offset": 0.45, "color": "rgba(0,0,0,0)"},
            {"offset": 0.492, "color": "rgba(0,0,0,0)"}, {"offset": 0.492, "color": "#ffd6ad"}, {"offset": 0.5, "color": "#ffd6ad"}, {"offset": 0.5, "color": "rgba(0,0,0,0)"},
            {"offset": 0.542, "color": "rgba(0,0,0,0)"}, {"offset": 0.542, "color": "#ffd6ad"}, {"offset": 0.55, "color": "#ffd6ad"}, {"offset": 0.55, "color": "rgba(0,0,0,0)"},
            {"offset": 0.592, "color": "rgba(0,0,0,0)"}, {"offset": 0.592, "color": "#ffd6ad"}, {"offset": 0.6, "color": "#ffd6ad"}, {"offset": 0.6, "color": "rgba(0,0,0,0)"},
            {"offset": 0.642, "color": "rgba(0,0,0,0)"}, {"offset": 0.642, "color": "#ffd6ad"}, {"offset": 0.65, "color": "#ffd6ad"}, {"offset": 0.65, "color": "rgba(0,0,0,0)"},
            {"offset": 0.692, "color": "rgba(0,0,0,0)"}, {"offset": 0.692, "color": "#ffd6ad"}, {"offset": 0.7, "color": "#ffd6ad"}, {"offset": 0.7, "color": "rgba(0,0,0,0)"},
            {"offset": 0.742, "color": "rgba(0,0,0,0)"}, {"offset": 0.742, "color": "#ffd6ad"}, {"offset": 0.75, "color": "#ffd6ad"}, {"offset": 0.75, "color": "rgba(0,0,0,0)"},
            {"offset": 0.792, "color": "rgba(0,0,0,0)"}, {"offset": 0.792, "color": "#ffd6ad"}, {"offset": 0.8, "color": "#ffd6ad"}, {"offset": 0.8, "color": "rgba(0,0,0,0)"},
            {"offset": 0.842, "color": "rgba(0,0,0,0)"}, {"offset": 0.842, "color": "#ffd6ad"}, {"offset": 0.85, "color": "#ffd6ad"}, {"offset": 0.85, "color": "rgba(0,0,0,0)"},
            {"offset": 0.892, "color": "rgba(0,0,0,0)"}, {"offset": 0.892, "color": "#ffd6ad"}, {"offset": 0.9, "color": "#ffd6ad"}, {"offset": 0.9, "color": "rgba(0,0,0,0)"},
            {"offset": 0.942, "color": "rgba(0,0,0,0)"}, {"offset": 0.942, "color": "#ffd6ad"}, {"offset": 0.95, "color": "#ffd6ad"}, {"offset": 0.95, "color": "rgba(0,0,0,0)"},
            {"offset": 0.992, "color": "rgba(0,0,0,0)"}, {"offset": 0.992, "color": "#ffd6ad"}, {"offset": 1, "color": "#ffd6ad"}
          ]}},
          "encoding": {
            "x": {"field": "value", "type": "quantitative", "title": "(ポイント)", "scale": {"domain": [0, 50], "range": [0, 391], "nice": false}, "axis": {"orient": "top", "values": [0, 10, 20, 30, 40, 50], "labelFlush": false, "titleX": 422, "titleY": -57}},
            "yOffset": {"field": "year", "type": "nominal", "sort": ["令和4年度", "令和3年度", "令和2年度", "令和元年度"], "scale": {"domain": ["令和4年度", "令和3年度", "令和2年度", "令和元年度"], "paddingOuter": 0.26, "paddingInner": 0}}
          }
        },
        {
          "transform": [{"filter": "datum.value !== null"}],
          "mark": {"type": "text", "align": "left", "baseline": "middle", "dx": 16, "fontSize": 20, "font": "Liberation Sans", "color": "black"},
          "encoding": {
            "x": {"field": "value", "type": "quantitative", "title": "(ポイント)", "scale": {"domain": [0, 50], "range": [0, 391], "nice": false}, "axis": {"orient": "top", "values": [0, 10, 20, 30, 40, 50], "labelFlush": false, "titleX": 422, "titleY": -57}},
            "yOffset": {"field": "year", "type": "nominal", "sort": ["令和4年度", "令和3年度", "令和2年度", "令和元年度"], "scale": {"domain": ["令和4年度", "令和3年度", "令和2年度", "令和元年度"], "paddingOuter": 0.26, "paddingInner": 0}},
            "text": {"field": "value", "type": "quantitative", "format": ".1f"}
          }
        },
        {
          "transform": [{"filter": "datum.value === null"}],
          "mark": {"type": "text", "align": "left", "baseline": "middle", "dx": 15, "fontSize": 15, "font": "Noto Sans CJK JP", "color": "black"},
          "encoding": {
            "x": {"datum": 0},
            "yOffset": {"field": "year", "type": "nominal", "sort": ["令和4年度", "令和3年度", "令和2年度", "令和元年度"], "scale": {"domain": ["令和4年度", "令和3年度", "令和2年度", "令和元年度"], "paddingOuter": 0.26, "paddingInner": 0}},
            "text": {"value": "－"}
          }
        }
      ]
    }
  ]
}
